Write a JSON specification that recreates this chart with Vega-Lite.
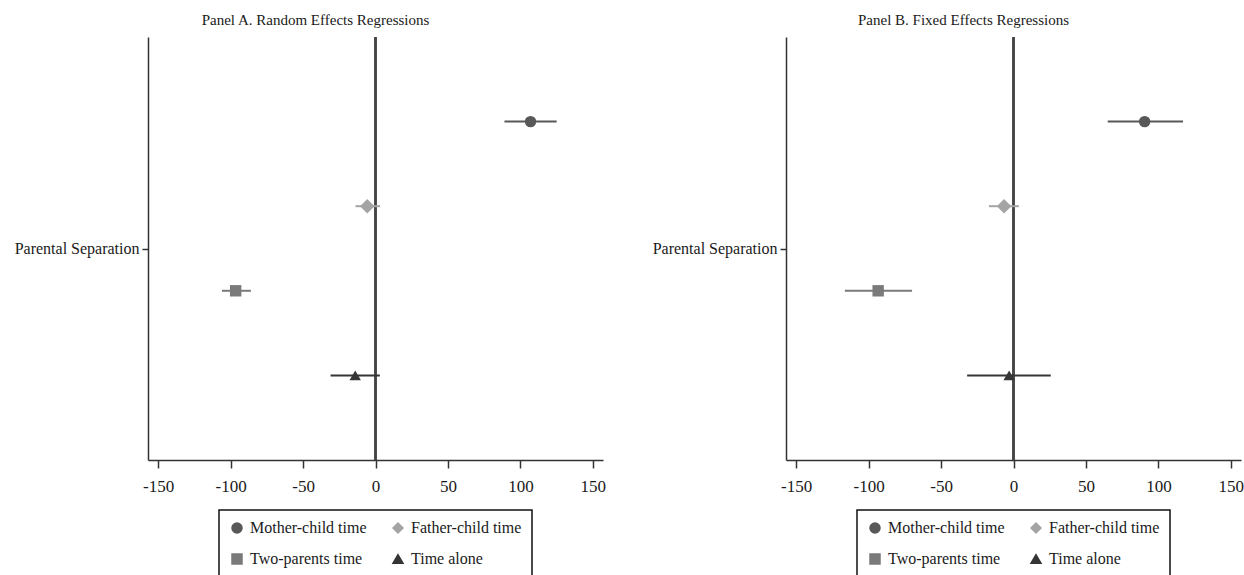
{
  "$schema": "https://vega.github.io/schema/vega-lite/v6.json",
  "padding": {"left": 14, "top": 13, "right": 0, "bottom": 0},
  "datasets": {
    "est": [
      {"panel": "A", "series": "Mother-child time", "pos": 1, "est": 107, "lo": 89, "hi": 125},
      {"panel": "A", "series": "Father-child time", "pos": 2, "est": -5.7, "lo": -13.8, "hi": 3.2},
      {"panel": "A", "series": "Two-parents time", "pos": 3, "est": -96.5, "lo": -106, "hi": -86},
      {"panel": "A", "series": "Time alone", "pos": 4, "est": -14, "lo": -31, "hi": 3},
      {"panel": "B", "series": "Mother-child time", "pos": 1, "est": 90.5, "lo": 65, "hi": 117},
      {"panel": "B", "series": "Father-child time", "pos": 2, "est": -6.5, "lo": -17, "hi": 3.7},
      {"panel": "B", "series": "Two-parents time", "pos": 3, "est": -93.4, "lo": -116.4, "hi": -70},
      {"panel": "B", "series": "Time alone", "pos": 4, "est": -3, "lo": -32, "hi": 25.7}
    ]
  },
  "config": {
    "view": {"stroke": null},
    "font": "Liberation Serif",
    "axis": {
      "domainColor": "#333", "domainWidth": 1.5, "tickColor": "#333", "tickWidth": 1.5,
      "labelFont": "Liberation Serif", "labelFontSize": 17, "labelColor": "#1a1a1a",
      "grid": false, "title": null
    },
    "axisY": {"labelFontSize": 16},
    "title": {"font": "Liberation Serif", "fontSize": 15, "fontWeight": "normal", "color": "#1a1a1a", "anchor": "middle", "offset": 8},
    "legend": {
      "orient": "none", "legendX": 71, "legendY": 473,
      "strokeColor": "#111", "strokeWidth": 1.5, "padding": 10,
      "columns": 2, "labelFont": "Liberation Serif", "labelFontSize": 16, "labelColor": "#1a1a1a",
      "rowPadding": 15, "columnPadding": 23, "labelOffset": 5, "symbolSize": 100
    }
  },
  "spacing": 46,
  "resolve": {"scale": {"color": "independent", "shape": "independent"}},
  "hconcat": [
    {
      "title": {"text": "Panel A. Random Effects Regressions", "dx": -60},
      "width": 455, "height": 423,
      "data": {"name": "est"},
      "transform": [{"filter": "datum.panel === 'A'"}],
      "layer": [
        {"mark": {"type": "rule", "color": "#444", "strokeWidth": 2}, "encoding": {"x": {"datum": 0, "type": "quantitative"}}},
        {
          "mark": {"type": "rule", "strokeWidth": 2},
          "encoding": {
            "x": {"field": "lo", "type": "quantitative", "scale": {"domain": [-157, 157], "nice": false, "zero": false}, "axis": {"values": [-150, -100, -50, 0, 50, 100, 150], "tickSize": 8, "labelPadding": 10, "labelExpr": "datum.value < 0 ? '-' + abs(datum.value) : '' + datum.value"}},
            "x2": {"field": "hi"},
            "y": {"field": "pos", "type": "quantitative", "scale": {"domain": [0, 5], "reverse": true, "nice": false, "zero": false}, "axis": {"values": [2.5], "labelExpr": "'Parental Separation'", "tickSize": 6, "labelPadding": 3}},
            "color": {"field": "series", "type": "nominal"}
          }
        },
        {
          "mark": {"type": "point", "filled": true, "opacity": 1, "size": 130},
          "encoding": {
            "x": {"field": "est", "type": "quantitative"},
            "y": {"field": "pos", "type": "quantitative"},
            "color": {"field": "series", "type": "nominal", "title": null, "scale": {"domain": ["Mother-child time", "Two-parents time", "Father-child time", "Time alone"], "range": ["#585858", "#7a7a7a", "#a4a4a4", "#353535"]}},
            "shape": {"field": "series", "type": "nominal", "title": null, "scale": {"domain": ["Mother-child time", "Two-parents time", "Father-child time", "Time alone"], "range": ["circle", "square", "diamond", "triangle-up"]}}
          }
        },
        {
          "transform": [{"filter": "datum.series === 'Father-child time'"}],
          "mark": {"type": "point", "filled": true, "opacity": 1, "size": 210},
          "encoding": {
            "x": {"field": "est", "type": "quantitative"},
            "y": {"field": "pos", "type": "quantitative"},
            "color": {"field": "series", "type": "nominal"},
            "shape": {"field": "series", "type": "nominal"}
          }
        }
      ]
    },
    {
      "title": {"text": "Panel B. Fixed Effects Regressions", "dx": -50},
      "width": 455, "height": 423,
      "data": {"name": "est"},
      "transform": [{"filter": "datum.panel === 'B'"}],
      "layer": [
        {"mark": {"type": "rule", "color": "#444", "strokeWidth": 2}, "encoding": {"x": {"datum": 0, "type": "quantitative"}}},
        {
          "mark": {"type": "rule", "strokeWidth": 2},
          "encoding": {
            "x": {"field": "lo", "type": "quantitative", "scale": {"domain": [-157, 157], "nice": false, "zero": false}, "axis": {"values": [-150, -100, -50, 0, 50, 100, 150], "tickSize": 8, "labelPadding": 10, "labelExpr": "datum.value < 0 ? '-' + abs(datum.value) : '' + datum.value"}},
            "x2": {"field": "hi"},
            "y": {"field": "pos", "type": "quantitative", "scale": {"domain": [0, 5], "reverse": true, "nice": false, "zero": false}, "axis": {"values": [2.5], "labelExpr": "'Parental Separation'", "tickSize": 6, "labelPadding": 3}},
            "color": {"field": "series", "type": "nominal"}
          }
        },
        {
          "mark": {"type": "point", "filled": true, "opacity": 1, "size": 130},
          "encoding": {
            "x": {"field": "est", "type": "quantitative"},
            "y": {"field": "pos", "type": "quantitative"},
            "color": {"field": "series", "type": "nominal", "title": null, "scale": {"domain": ["Mother-child time", "Two-parents time", "Father-child time", "Time alone"], "range": ["#585858", "#7a7a7a", "#a4a4a4", "#353535"]}},
            "shape": {"field": "series", "type": "nominal", "title": null, "scale": {"domain": ["Mother-child time", "Two-parents time", "Father-child time", "Time alone"], "range": ["circle", "square", "diamond", "triangle-up"]}}
          }
        },
        {
          "transform": [{"filter": "datum.series === 'Father-child time'"}],
          "mark": {"type": "point", "filled": true, "opacity": 1, "size": 210},
          "encoding": {
            "x": {"field": "est", "type": "quantitative"},
            "y": {"field": "pos", "type": "quantitative"},
            "color": {"field": "series", "type": "nominal"},
            "shape": {"field": "series", "type": "nominal"}
          }
        }
      ]
    }
  ]
}
